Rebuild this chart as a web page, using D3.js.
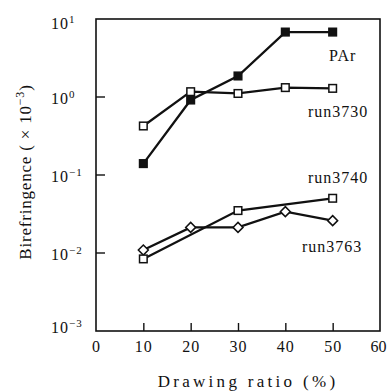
<!doctype html>
<html>
<head>
<script src="https://d3js.org/d3.v7.min.js"></script>
<style>
  body { margin: 0; background: #fff; }
  text { font-family: "Liberation Serif", "DejaVu Serif", serif; fill: #111; }
</style>
</head>
<body>
<svg width="387" height="391"></svg>
<script>
// drawing ratio (%)
var ratio = [10, 20, 30, 40, 50];
// birefringence (x 10^-3)
var par     = [0.14, 0.915, 1.86, 6.8, 6.8];
var run3730 = [0.425, 1.17, 1.11, 1.32, 1.29];
var ratio3740 = [10, 30, 50];
var run3740 = [0.0084, 0.0350, 0.0503];
var run3763 = [0.0109, 0.0213, 0.0213, 0.0339, 0.026];

var xTicks = [0, 10, 20, 30, 40, 50, 60];
var yTicks = [1e-3, 1e-2, 1e-1, 1, 10];
var yExp = ["\u22123", "\u22122", "\u22121", "0", "1"];

var svg = d3.select("svg");
var mLeft = 96, mRight = 380, mTop = 19, mBottom = 331;

var x = d3.scaleLinear().domain([0, 60]).range([mLeft, mRight]);
var y = d3.scaleLog().domain([1e-3, 10]).range([mBottom, mTop]);

// frame
svg.append("rect")
   .attr("x", mLeft).attr("y", mTop)
   .attr("width", mRight - mLeft).attr("height", mBottom - mTop)
   .attr("fill", "none").attr("stroke", "#111").attr("stroke-width", 1.6);

// x axis: inward ticks
var xa = svg.append("g").attr("transform", "translate(0," + mBottom + ")")
   .call(d3.axisBottom(x).tickValues(xTicks).tickSize(0).tickPadding(10).tickFormat(d3.format("d")));
xa.select(".domain").remove();
xa.selectAll(".tick text").attr("font-size", 16).attr("letter-spacing", 1)
   .attr("font-family", "Liberation Serif").attr("fill", "#111");
// last label sits at the window edge, nudge it in
xa.selectAll(".tick text").filter(function(d) { return d === 60; })
   .attr("letter-spacing", 0).attr("dx", -2);
xa.selectAll(".tick").filter(function(d) { return d > 0 && d < 60; })
   .append("line").attr("y1", 0).attr("y2", -8).attr("stroke", "#111").attr("stroke-width", 1.4);

// y axis: inward ticks, labels as 10^n
var ya = svg.append("g");
ya.selectAll("line").data(yTicks.slice(1, 4)).enter().append("line")
   .attr("x1", mLeft).attr("x2", mLeft + 9)
   .attr("y1", function(d) { return y(d); }).attr("y2", function(d) { return y(d); })
   .attr("stroke", "#111").attr("stroke-width", 1.4);
var yl = ya.selectAll("text").data(yTicks).enter().append("text")
   .attr("x", 51)
   .attr("y", function(d) { return Math.min(Math.max(y(d) + 7, 29), 333); })
   .attr("font-size", 16).attr("letter-spacing", 1);
yl.append("tspan").text("10");
yl.append("tspan").attr("dy", -6).attr("font-size", 11)
   .text(function(d, i) { return yExp[i]; });

// series
function series(xs, ys, shape) {
  var pts = xs.map(function(v, i) { return [x(v), y(ys[i])]; });
  svg.append("path").datum(pts)
     .attr("d", d3.line())
     .attr("fill", "none").attr("stroke", "#111").attr("stroke-width", 2.3);
  var g = svg.append("g");
  pts.forEach(function(p) {
    if (shape === "diamond") {
      g.append("path")
       .attr("d", "M" + p[0] + "," + (p[1] - 5) + "l5,5l-5,5l-5,-5z")
       .attr("fill", "#fff").attr("stroke", "#111").attr("stroke-width", 1.5);
    } else {
      g.append("rect").attr("x", p[0] - 3.8).attr("y", p[1] - 3.8)
       .attr("width", 7.6).attr("height", 7.6)
       .attr("fill", shape === "filled" ? "#111" : "#fff")
       .attr("stroke", "#111").attr("stroke-width", 1.5);
    }
  });
}
series(ratio, run3763, "diamond");
series(ratio3740, run3740, "open");
series(ratio, run3730, "open");
series(ratio, par, "filled");

// series labels
var labels = [
  { t: "PAr", x: 329, y: 61 },
  { t: "run3730", x: 308, y: 117 },
  { t: "run3740", x: 308, y: 183 },
  { t: "run3763", x: 302, y: 252 }
];
svg.selectAll(".lab").data(labels).enter().append("text")
   .attr("class", "lab")
   .attr("x", function(d) { return d.x; }).attr("y", function(d) { return d.y; })
   .attr("font-size", 16).attr("letter-spacing", 1)
   .text(function(d) { return d.t; });

// axis titles
svg.append("text")
   .attr("x", 248).attr("y", 387)
   .attr("text-anchor", "middle").attr("font-size", 17).attr("letter-spacing", 3.3)
   .text("Drawing ratio (%)");

var yt = svg.append("text")
   .attr("transform", "translate(31,172) rotate(-90)")
   .attr("text-anchor", "middle").attr("font-size", 17).attr("letter-spacing", 0.8);
yt.append("tspan").text("Birefringence ( \u00d7 10");
yt.append("tspan").attr("dy", -7).attr("font-size", 12).text("\u22123");
yt.append("tspan").attr("dy", 7).text(")");
</script>
</body>
</html>
